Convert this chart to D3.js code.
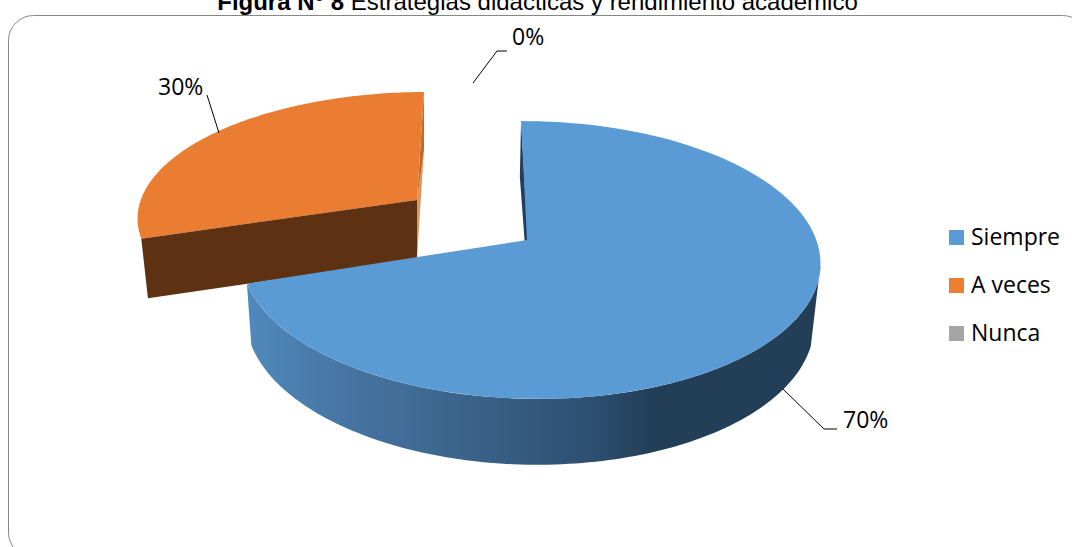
<!DOCTYPE html>
<html><head><meta charset="utf-8">
<script src="https://cdn.jsdelivr.net/npm/d3@7"></script>
<style>html,body{margin:0;padding:0;background:#fff;overflow:hidden}svg{display:block}</style>
</head><body><svg id="c" width="1072" height="547"></svg>
<script>
const categories = ["Siempre", "A veces", "Nunca"];
const values = [70, 30, 0];
const labels = ["70%", "30%", "0%"];
const colors = ["#5B9BD5", "#ED7D31", "#A5A5A5"];
const titleBold = "Figura N° 8";
const titleRest = " Estrategias didácticas y rendimiento académico";

const svg = d3.select("#c");
const font = "'Open Sans'";

// Perspective projection of a pie plane: angle (clockwise from top) -> screen
function plane(p) {
  const f = a => {
    const u = Math.sin(a), v = -Math.cos(a);
    const d = 1 - p.k * v - p.m * u;
    const y = p.ry * v / d;
    return [p.cx + p.rx * u / d + p.s * y, p.cy + y];
  };
  f.apex = [p.cx, p.cy];
  return f;
}
const sampled = (f, a0, a1) => d3.range(0, 121).map(i => f(a0 + (a1 - a0) * i / 120));
const poly = d3.line();

const slices = d3.pie().sort(null).value(d => d)(values);
const blue = slices[0], orange = slices[1];

const blueTop = plane({cx:527, cy:240, rx:286.4, ry:136, k:.144, m:.01, s:.05});
const blueLow = plane({cx:526, cy:300, rx:281, ry:141, k:.144, m:.01, s:.05});
const orangeTop = plane({cx:417, cy:200, rx:279, ry:121.4, k:.124, m:.01, s:-.065});
const orangeLow = plane({cx:417, cy:256, rx:263.6, ry:129, k:.22, m:.01, s:-.066});

const defs = svg.append("defs");
const g = defs.append("linearGradient").attr("id","side").attr("gradientUnits","userSpaceOnUse")
  .attr("x1",250).attr("x2",820).attr("y1",0).attr("y2",0);
[[0,"#5088BB"],[.15,"#4777A5"],[.4,"#3A6188"],[.6,"#2D4F71"],[.7,"#233F58"],[1,"#233F58"]]
  .forEach(s => g.append("stop").attr("offset",s[0]).attr("stop-color",s[1]));

// Border
svg.append("rect").attr("x",8.5).attr("y",15.5).attr("width",1079).attr("height",542).attr("rx",25).attr("ry",25)
  .attr("fill","#fff").attr("stroke","#868686").attr("stroke-width",1);

// Title
const t = svg.append("text").attr("x",537.5).attr("y",10).attr("text-anchor","middle")
  .attr("font-family","'Liberation Sans'").attr("font-size",24).attr("fill","#000");
t.append("tspan").attr("font-weight","bold").text(titleBold);
t.append("tspan").text(titleRest);

// Orange slice
const oa0 = orange.startAngle, oa1 = orange.endAngle;
const wallFoot = [orangeLow.apex[0], orangeLow.apex[1] + 3];
svg.append("path").attr("fill","#DF955F").attr("d", poly([orangeLow(oa1), wallFoot, orangeTop.apex])+"Z");
svg.append("path").attr("fill","#C46A29").attr("d", poly([orangeTop(oa1), orangeLow(oa1), orangeTop.apex])+"Z");
svg.append("path").attr("fill","#EA7D31").attr("d", poly([orangeTop.apex, ...sampled(orangeTop, oa0, oa1)])+"Z");
svg.append("path").attr("fill","#5E3113").attr("d", poly([orangeTop(oa0), orangeTop.apex, wallFoot, orangeLow(oa0)])+"Z");

// Blue slice
const ba0 = blue.startAngle, ba1 = blue.endAngle;
const sideTopStart = Math.PI * 100 / 180, sideLowStart = Math.PI * 108 / 180;
svg.append("path").attr("fill","url(#side)").attr("d",
  poly([...sampled(blueTop, sideTopStart, ba1), ...sampled(blueLow, sideLowStart, ba1).reverse()])+"Z");
svg.append("path").attr("fill","#1F3F5A").attr("d",
  poly([blueTop(ba0), blueLow(ba0), [blueLow.apex[0]+3, blueLow.apex[1]], [blueTop.apex[0]+1, blueTop.apex[1]]])+"Z");
svg.append("path").attr("fill",colors[0]).attr("d", poly([blueTop.apex, ...sampled(blueTop, ba0, ba1)])+"Z");

// Leader lines
const leaders = [
  [[783,389],[824,429],[837,429]],
  [[219,133],[207,95]],
  [[473,83],[497,51],[507,51]]
];
svg.selectAll(".l").data(leaders).join("path").attr("fill","none").attr("stroke","#000").attr("stroke-width",1).attr("d",d=>poly(d));
const labelPos = [[843,428],[158,95],[512,45]];
svg.selectAll(".dl").data(labels).join("text").attr("x",(d,i)=>labelPos[i][0]).attr("y",(d,i)=>labelPos[i][1])
  .attr("font-family",font).attr("font-size",23).attr("fill","#000").text(d=>d);

// Legend
const ly = d3.scalePoint().domain(categories).range([230,326]);
const lg = svg.append("g");
lg.selectAll("rect").data(categories).join("rect").attr("x",949).attr("y",d=>ly(d)).attr("width",15).attr("height",15)
  .attr("fill",(d,i)=>colors[i]);
lg.selectAll("text").data(categories).join("text").attr("x",971).attr("y",d=>ly(d)+15)
  .attr("font-family",font).attr("font-size",23).attr("fill","#000").text(d=>d);
</script></body></html>
